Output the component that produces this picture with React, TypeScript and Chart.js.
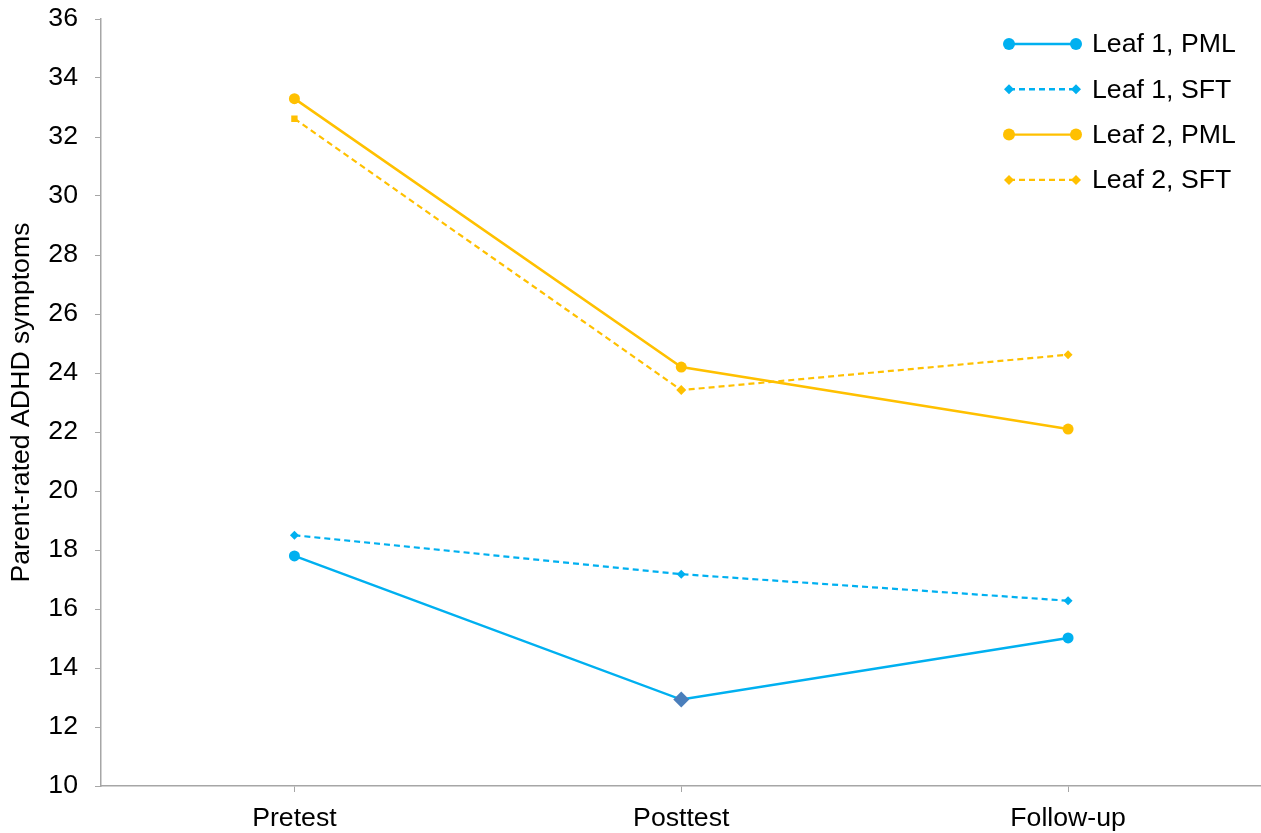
import React, { useEffect, useRef } from "react";
import { Chart, registerables } from "chart.js";

Chart.register(...registerables);

const categories = ["Pretest", "Posttest", "Follow-up"];
const leaf1PML = [17.8, 12.93, 15.02];
const leaf1SFT = [18.5, 17.18, 16.28];
const leaf2PML = [33.3, 24.2, 22.1];
const leaf2SFT = [32.62, 23.42, 24.62];
const seriesNames = ["Leaf 1, PML", "Leaf 1, SFT", "Leaf 2, PML", "Leaf 2, SFT"];
const yTitle = "Parent-rated ADHD symptoms";

const BLUE = "#00B0F0";
const ORANGE = "#FFC000";
const FONT = "'Liberation Sans', Arial, sans-serif";
const FS = 26.67;

const legendPlugin = {
  id: "customLegend",
  afterDraw(chart: any) {
    const ctx = chart.ctx;
    const items = [
      { label: seriesNames[0], color: BLUE, dash: [], style: "circle" },
      { label: seriesNames[1], color: BLUE, dash: [6, 4], style: "diamond" },
      { label: seriesNames[2], color: ORANGE, dash: [], style: "circle" },
      { label: seriesNames[3], color: ORANGE, dash: [6, 4], style: "diamond" },
    ];
    const x0 = 1009;
    const x1 = 1076;
    const tx = 1092;
    const y0 = 44;
    const dy = 45.3;
    ctx.save();
    items.forEach((it, i) => {
      const y = y0 + i * dy;
      ctx.strokeStyle = it.color;
      ctx.lineWidth = 2.4;
      ctx.setLineDash(it.dash);
      ctx.beginPath();
      ctx.moveTo(x0, y);
      ctx.lineTo(x1, y);
      ctx.stroke();
      ctx.setLineDash([]);
      ctx.fillStyle = it.color;
      [x0, x1].forEach((px) => {
        ctx.beginPath();
        if (it.style === "circle") {
          ctx.arc(px, y, 6, 0, Math.PI * 2);
        } else {
          const r = 5;
          ctx.moveTo(px, y - r);
          ctx.lineTo(px + r, y);
          ctx.lineTo(px, y + r);
          ctx.lineTo(px - r, y);
          ctx.closePath();
        }
        ctx.fill();
      });
      ctx.fillStyle = "#000";
      ctx.font = `${FS}px ${FONT}`;
      ctx.textBaseline = "middle";
      ctx.textAlign = "left";
      ctx.fillText(it.label, tx, y + 1);
    });
    ctx.restore();
  },
};

export default function App() {
  const ref = useRef<HTMLCanvasElement | null>(null);
  useEffect(() => {
    document.body.style.margin = "0";
    const canvas = ref.current!;
    const chart = new Chart(canvas, {
      type: "line",
      data: {
        labels: categories,
        datasets: [
          {
            label: seriesNames[0],
            data: leaf1PML,
            borderColor: BLUE,
            backgroundColor: [BLUE, "#4A7EBB", BLUE],
            borderWidth: 2.5,
            pointStyle: ["circle", "rectRot", "circle"],
            pointRadius: [5.5, 8, 5.5],
            pointBorderWidth: 0,
            tension: 0,
          },
          {
            label: seriesNames[1],
            data: leaf1SFT,
            borderColor: BLUE,
            backgroundColor: BLUE,
            borderWidth: 2.2,
            borderDash: [6, 4],
            pointStyle: "rectRot",
            pointRadius: 4.5,
            pointBorderWidth: 0,
            tension: 0,
          },
          {
            label: seriesNames[2],
            data: leaf2PML,
            borderColor: ORANGE,
            backgroundColor: ORANGE,
            borderWidth: 2.5,
            pointStyle: "circle",
            pointRadius: 5.5,
            pointBorderWidth: 0,
            tension: 0,
          },
          {
            label: seriesNames[3],
            data: leaf2SFT,
            borderColor: ORANGE,
            backgroundColor: ORANGE,
            borderWidth: 2.2,
            borderDash: [6, 4],
            pointStyle: ["rect", "rectRot", "rectRot"],
            pointRadius: [4.5, 5, 4.5],
            pointBorderWidth: 0,
            tension: 0,
          },
        ],
      },
      options: {
        animation: false,
        responsive: false,
        maintainAspectRatio: false,
        layout: { padding: { top: 19, right: 0, left: 0, bottom: 0 } },
        plugins: {
          legend: { display: false },
          tooltip: { enabled: false },
        },
        scales: {
          x: {
            type: "category",
            offset: true,
            grid: {
              display: true,
              drawOnChartArea: false,
              drawTicks: true,
              tickLength: 6,
              color: "#A6A6A6",
              offset: false,
            },
            border: { display: true, color: "#A6A6A6", width: 1.5 },
            ticks: {
              color: "#000",
              font: { family: FONT, size: FS },
              padding: 11,
              maxRotation: 0,
            },
            afterFit(scale: any) {
              scale.height = 47;
              scale.paddingLeft = 0;
              scale.paddingRight = 0;
            },
          },
          y: {
            min: 10,
            max: 36,
            grid: {
              display: true,
              drawOnChartArea: false,
              drawTicks: true,
              tickLength: 6,
              color: "#A6A6A6",
            },
            border: { display: true, color: "#A6A6A6", width: 1.5 },
            ticks: {
              stepSize: 2,
              color: "#000",
              font: { family: FONT, size: FS },
              padding: 17,
            },
            title: {
              display: true,
              text: yTitle,
              color: "#000",
              font: { family: FONT, size: FS },
              padding: { top: 6, bottom: 0 },
            },
            afterFit(scale: any) {
              scale.width = 101;
              scale.paddingTop = 0;
              scale.paddingBottom = 0;
            },
          },
        },
      },
      plugins: [legendPlugin],
    } as any);
    return () => chart.destroy();
  }, []);
  return (
    <div style={{ position: "absolute", left: 0, top: 0, width: 1261, height: 833, overflow: "hidden" }}>
      <canvas ref={ref} width={1267} height={833} style={{ display: "block", width: 1267, height: 833 }} />
    </div>
  );
}
